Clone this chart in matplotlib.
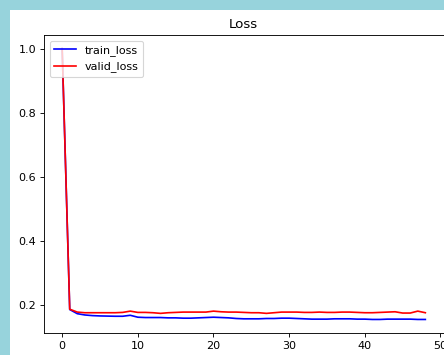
import matplotlib
matplotlib.use("Agg")
import matplotlib.pyplot as plt
from matplotlib.patches import Rectangle

# valori (49 epoche)
train_loss = [1.0, 0.185, 0.172, 0.168, 0.166, 0.165, 0.1645, 0.164, 0.164, 0.167,
              0.161, 0.160, 0.160, 0.160, 0.159, 0.159, 0.158, 0.158, 0.159, 0.160,
              0.161, 0.160, 0.159, 0.157, 0.156, 0.156, 0.156, 0.157, 0.157, 0.158,
              0.158, 0.157, 0.156, 0.155, 0.155, 0.155, 0.156, 0.156, 0.156, 0.155,
              0.155, 0.154, 0.154, 0.155, 0.155, 0.155, 0.155, 0.154, 0.154]
valid_loss = [1.0, 0.186, 0.177, 0.175, 0.175, 0.175, 0.175, 0.175, 0.176, 0.180,
              0.176, 0.176, 0.175, 0.173, 0.175, 0.176, 0.177, 0.177, 0.177, 0.177,
              0.180, 0.178, 0.177, 0.177, 0.176, 0.175, 0.175, 0.173, 0.175, 0.177,
              0.177, 0.177, 0.176, 0.176, 0.177, 0.176, 0.176, 0.177, 0.177, 0.176,
              0.175, 0.175, 0.176, 0.177, 0.178, 0.174, 0.174, 0.180, 0.175]
epochs = list(range(len(train_loss)))

W, H = 444, 355
fig = plt.figure(figsize=(W / 80, H / 80), dpi=80, facecolor="#97d3dc")
# area bianca (screenshot ritagliato con bordo azzurro)
fig.add_artist(Rectangle((10 / W, 0), 1, 1 - 10 / H, transform=fig.transFigure,
                         facecolor="white", edgecolor="none", zorder=-1))

ax = fig.add_axes([44 / W, 1 - 333 / H, (443.5 - 44) / W, (333 - 35) / H])
ax.plot(epochs, train_loss, color="blue", label="train_loss")
ax.plot(epochs, valid_loss, color="red", label="valid_loss")
ax.set_title("Loss")
ax.legend(loc="upper left")

fig.savefig("out.png", dpi=80)
